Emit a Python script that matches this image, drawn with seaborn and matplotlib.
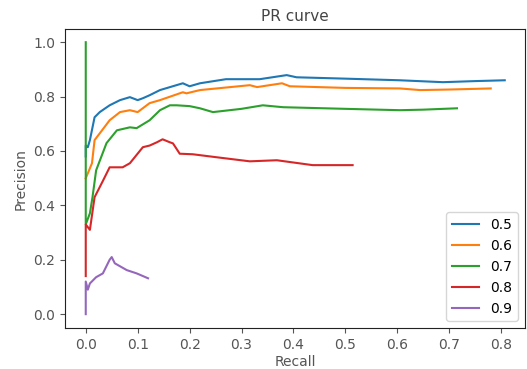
import numpy as np
import pandas as pd
import matplotlib
matplotlib.use('Agg')
import matplotlib.pyplot as plt
import seaborn as sns

# PR curve points, one series per threshold
thresholds = ['0.5', '0.6', '0.7', '0.8', '0.9']

recall_05 = [0.0, 0.0, 0.004, 0.008, 0.017, 0.027, 0.046, 0.066, 0.085, 0.1, 0.11, 0.123,
             0.143, 0.187, 0.2, 0.22, 0.27, 0.335, 0.387, 0.406, 0.5, 0.605, 0.688, 0.75, 0.807]
precision_05 = [0.58, 0.62, 0.614, 0.64, 0.724, 0.743, 0.768, 0.787, 0.798, 0.787, 0.794, 0.805,
                0.824, 0.849, 0.838, 0.849, 0.864, 0.864, 0.879, 0.871, 0.866, 0.86, 0.853, 0.857, 0.86]

recall_06 = [0.0, 0.004, 0.012, 0.017, 0.027, 0.046, 0.066, 0.085, 0.1, 0.123, 0.143, 0.187,
             0.194, 0.22, 0.316, 0.33, 0.378, 0.393, 0.5, 0.605, 0.644, 0.7, 0.78]
precision_06 = [0.5, 0.518, 0.555, 0.64, 0.665, 0.713, 0.743, 0.75, 0.743, 0.776, 0.787, 0.816,
                0.812, 0.824, 0.842, 0.835, 0.849, 0.838, 0.832, 0.83, 0.824, 0.826, 0.83]

recall_07 = [0.0, 0.0, 0.008, 0.013, 0.02, 0.04, 0.06, 0.085, 0.098, 0.123, 0.143, 0.162,
             0.175, 0.2, 0.22, 0.245, 0.3, 0.341, 0.38, 0.5, 0.605, 0.65, 0.715]
precision_07 = [1.0, 0.33, 0.371, 0.43, 0.529, 0.629, 0.676, 0.687, 0.684, 0.713, 0.75, 0.768,
                0.768, 0.765, 0.757, 0.743, 0.755, 0.768, 0.761, 0.755, 0.75, 0.752, 0.757]

recall_08 = [0.0, 0.0, 0.008, 0.017, 0.033, 0.046, 0.071, 0.085, 0.11, 0.123, 0.137, 0.148,
             0.162, 0.168, 0.181, 0.206, 0.252, 0.316, 0.368, 0.437, 0.514]
precision_08 = [0.14, 0.33, 0.31, 0.43, 0.49, 0.54, 0.54, 0.555, 0.614, 0.62, 0.632, 0.643,
                0.632, 0.628, 0.59, 0.588, 0.577, 0.562, 0.566, 0.548, 0.548]

recall_09 = [0.0, 0.0, 0.004, 0.008, 0.02, 0.033, 0.046, 0.05, 0.056, 0.079, 0.098, 0.12]
precision_09 = [0.0, 0.12, 0.09, 0.113, 0.136, 0.15, 0.2, 0.21, 0.187, 0.162, 0.15, 0.132]

recalls = [recall_05, recall_06, recall_07, recall_08, recall_09]
precisions = [precision_05, precision_06, precision_07, precision_08, precision_09]

frames = []
for t, r, p in zip(thresholds, recalls, precisions):
    frames.append(pd.DataFrame({'recall': r, 'precision': p, 'threshold': t}))
df = pd.concat(frames, ignore_index=True)

# Styling
text_grey = '#555555'
plt.rcParams['font.family'] = ['DejaVu Sans']
plt.rcParams['font.size'] = 10

fig = plt.figure(figsize=(5.27, 3.69), dpi=100)
ax = fig.add_axes([0.1233, 0.111, 0.8729, 0.810])

sns.lineplot(data=df, x='recall', y='precision', hue='threshold',
             estimator=None, sort=False, palette='tab10', linewidth=1.5, ax=ax)

ax.set_title('PR curve', color='#444444', fontsize=11)
ax.set_xlabel('Recall', color=text_grey, labelpad=2)
ax.set_ylabel('Precision', color=text_grey)
ax.set_xticks(np.arange(0, 0.81, 0.1))
ax.set_yticks(np.arange(0, 1.01, 0.2))
ax.set_xlim(-0.040, 0.846)
ax.set_ylim(-0.051, 1.048)
ax.tick_params(colors=text_grey, labelcolor=text_grey)
for s in ax.spines.values():
    s.set_color('#222222')

handles, labels = ax.get_legend_handles_labels()
ax.legend(handles, labels, loc='lower right', fontsize=10)

plt.savefig('out.png', dpi=100)
plt.close()
